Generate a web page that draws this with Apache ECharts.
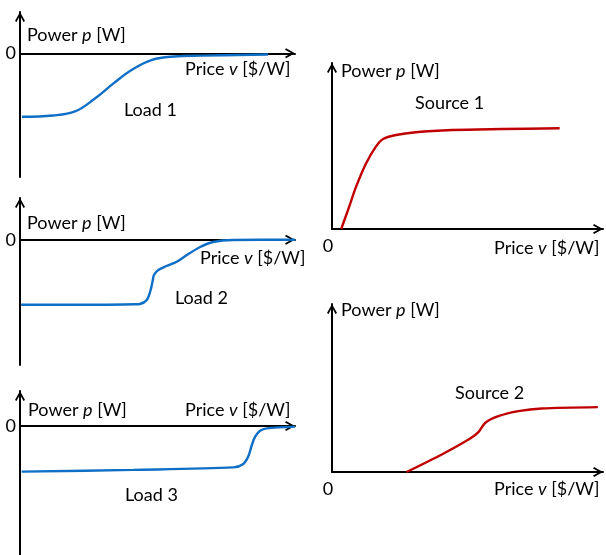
<!DOCTYPE html>
<html>
<head>
<meta charset="utf-8">
<script src="https://cdn.jsdelivr.net/npm/echarts@6/dist/echarts.min.js"></script>
<style>
html,body{margin:0;padding:0;background:#fff;}
#chart{width:606px;height:555px;}
</style>
</head>
<body>
<div id="chart"></div>
<script>
// ---- data (price v in % of axis range, power p in arbitrary units) ----
const panelNames = ['Load 1', 'Load 2', 'Load 3', 'Source 1', 'Source 2'];
const zeroLabel = '0';

const load1Price = [0.7, 12, 20, 27, 34, 41, 48, 56, 66, 90.2];
const load1Power = [-154, -151, -141, -111, -73, -39, -16, -7.9, -5.8, -3];

const load2Price = [0.4, 29.1, 41.8, 43.6, 46.1, 47.5, 48.3, 48.7, 50.3, 53.3, 57, 60.7, 65.5, 70.2, 77.5, 100];
const load2Power = [-155.6, -155.6, -154.6, -153.9, -144.3, -120.4, -96.4, -84.4, -72.5, -62.9, -52.6, -36.5, -17.4, -5.4, -0.5, 0];

const load3Price = [0.6, 41.2, 77.6, 81.2, 83, 84.3, 85.5, 87.3, 89.7, 100];
const load3Power = [-131, -126, -119, -109, -88, -55, -31, -14, -7, -2];

const source1Price = [3.4, 5.9, 8.9, 12.6, 16.2, 18.7, 23.6, 30.9, 44.3, 62.6, 84];
const source1Power = [0, 11.4, 25.5, 39.6, 49.6, 54.1, 56.6, 58.3, 59.6, 60.2, 60.7];

const source2Price = [27.5, 40.7, 51, 54.1, 56.5, 61.4, 68.8, 77.3, 98.1];
const source2Power = [0, 10.6, 19.9, 23.9, 29.2, 33.2, 36.2, 37.8, 38.6];

// ---- helpers ----
const zip = (xs, ys) => xs.map((x, i) => [x, ys[i]]);
const FONT = 'Lato';
const FS = 18;
const BLUE = '#0F6FC6';
const RED = '#C00000';
const arrowPath = 'path://M5,0 L10,9 L8.5,10 L5,3.6 L1.5,10 L0,9 Z';

const axisLineStyle = {
  show: true,
  lineStyle: { color: '#000', width: 2 },
  symbol: ['none', arrowPath],
  symbolSize: [10, 10],
  symbolOffset: [0, -5]
};

const grids = [
  { left: 20, top: 12, width: 275, height: 165 },
  { left: 20, top: 198, width: 275, height: 167 },
  { left: 20, top: 391, width: 275, height: 164 },
  { left: 332, top: 63, width: 273, height: 166 },
  { left: 332, top: 304, width: 273, height: 168 }
];

const yRanges = [
  { min: -300, max: 100, interval: 50 },
  { min: -300, max: 100, interval: 50 },
  { min: -370, max: 100, interval: 10 },
  { min: 0, max: 100, interval: 50 },
  { min: 0, max: 100, interval: 50 }
];

const isLoad = i => i < 3;

const xAxes = grids.map((g, i) => ({
  type: 'value', gridIndex: i, min: 0, max: 100, interval: 50,
  axisLine: Object.assign({}, axisLineStyle, { onZero: true }),
  axisTick: { show: false },
  splitLine: { show: false },
  axisLabel: isLoad(i) ? { show: false } : {
    show: true, margin: 8, padding: [0, 8, 0, 0],
    color: '#000', fontFamily: FONT, fontSize: FS,
    formatter: v => (v === 0 ? zeroLabel : '')
  }
}));

const yAxes = grids.map((g, i) => ({
  type: 'value', gridIndex: i,
  min: yRanges[i].min, max: yRanges[i].max, interval: yRanges[i].interval,
  axisLine: Object.assign({}, axisLineStyle, { onZero: false }),
  axisTick: { show: false },
  splitLine: { show: false },
  axisLabel: isLoad(i) ? {
    show: true, margin: 4, padding: [4, 0, 0, 0],
    color: '#000', fontFamily: FONT, fontSize: FS,
    formatter: v => (v === 0 ? zeroLabel : '')
  } : { show: false }
}));

const seriesData = [
  zip(load1Price, load1Power),
  zip(load2Price, load2Power),
  zip(load3Price, load3Power),
  zip(source1Price, source1Power),
  zip(source2Price, source2Power)
];

const series = seriesData.map((d, i) => ({
  name: panelNames[i],
  type: 'line', xAxisIndex: i, yAxisIndex: i,
  data: d, showSymbol: false, symbol: 'none',
  smooth: i === 0 ? 0.4 : 0.3,
  lineStyle: { color: isLoad(i) ? BLUE : RED, width: 2.4 },
  z: 3
}));

// ---- text labels ----
const rich = {
  n: { fontFamily: FONT, fontSize: FS, fill: '#000', color: '#000' },
  i: { fontFamily: FONT, fontSize: FS, fontStyle: 'italic', fill: '#000', color: '#000' }
};
const powerText = '{n|Power }{i|p}{n| [W]}';
const priceText = '{n|Price }{i|v}{n| [$/W]}';

function txt(x, y, text) {
  return {
    type: 'text', x: x, y: y, z: 10,
    style: {
      text: text, rich: rich, fontFamily: FONT, fontSize: FS, fill: '#000',
      align: 'left', verticalAlign: 'middle'
    }
  };
}

const graphic = [
  txt(27, 35, powerText), txt(185, 69, priceText), txt(124, 110, '{n|' + panelNames[0] + '}'),
  txt(27, 223, powerText), txt(200, 258, priceText), txt(175, 298, '{n|' + panelNames[1] + '}'),
  txt(28, 410, powerText), txt(185, 410, priceText), txt(125, 495, '{n|' + panelNames[2] + '}'),
  txt(341, 71, powerText), txt(415, 103, '{n|' + panelNames[3] + '}'), txt(494, 248, priceText),
  txt(341, 310, powerText), txt(455, 393, '{n|' + panelNames[4] + '}'), txt(494, 489, priceText)
];

const chart = echarts.init(document.getElementById('chart'), null, { renderer: 'canvas' });
chart.setOption({
  animation: false,
  backgroundColor: '#fff',
  grid: grids,
  xAxis: xAxes,
  yAxis: yAxes,
  series: series,
  graphic: graphic
});
</script>
</body>
</html>
